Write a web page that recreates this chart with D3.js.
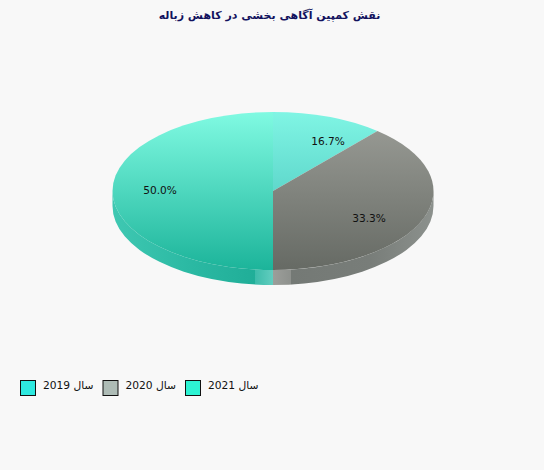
<!DOCTYPE html>
<html><head><meta charset="utf-8">
<script src="https://cdn.jsdelivr.net/npm/d3@7/dist/d3.min.js"></script>
<style>html,body{margin:0;padding:0;background:#f8f8f8}svg{display:block}</style></head>
<body><svg id="c" width="544" height="470"></svg>
<script>
const titleText = "نقش کمپین آگاهی بخشی در کاهش زباله";
const categories = ["سال 2019", "سال 2020", "سال 2021"];
const values = [16.7, 33.3, 50.0];
const labels = ["16.7%", "33.3%", "50.0%"];
const legendColors = ["#2ee9e0", "#aebcb6", "#2df3d3"];
const topStops = [["#80f5e4", "#5fd8cc"], ["#9c9e98", "#666a64"], ["#80fae2", "#1cb49a"]];

const svg = d3.select("#c");
const cx = 273, cy = 191, rx = 160.5, ry = 79, depth = 15;

const pie = d3.pie().sort(null).value(d => d)(values);
function edge(a) {
  const s = Math.sin(a), c = -Math.cos(a);
  const k = 1 / Math.sqrt((s / rx) ** 2 + (c / ry) ** 2);
  return [cx + k * s, cy + k * c];
}
const y = d3.scaleLinear().domain([0, 1]).range([cy - ry, cy + ry]);
const defs = svg.append("defs");
topStops.forEach((st, i) => {
  const g = defs.append("linearGradient").attr("id", "t" + i)
    .attr("gradientUnits", "userSpaceOnUse")
    .attr("x1", 0).attr("x2", 0).attr("y1", y(0)).attr("y2", i === 0 ? cy : y(1));
  st.forEach((c, j) => g.append("stop").attr("offset", j).attr("stop-color", c));
});
const mk = (id, stops, x1, x2) => {
  const g = defs.append("linearGradient").attr("id", id).attr("gradientUnits", "userSpaceOnUse")
    .attr("x1", x1).attr("x2", x2).attr("y1", 0).attr("y2", 0);
  stops.forEach(s => g.append("stop").attr("offset", s[0]).attr("stop-color", s[1]));
};
mk("sideTeal", [[0, "#3fc8b2"], [.45, "#2cbaa4"], [.885, "#20ae98"], [.89, "#3dbcaa"], [1, "#62cdbf"]], cx - rx, cx);
mk("sideGrey", [[0, "#9c9e9a"], [.11, "#8e918d"], [.115, "#747975"], [.6, "#787d79"], [1, "#8c918d"]], cx, cx + rx);

svg.append("path").attr("d", `M${cx - rx},${cy}A${rx},${ry} 0 0 0 ${cx},${cy + ry}L${cx},${cy + ry + depth}A${rx},${ry} 0 0 1 ${cx - rx},${cy + depth}Z`).attr("fill", "url(#sideTeal)");
svg.append("path").attr("d", `M${cx},${cy + ry}A${rx},${ry} 0 0 0 ${cx + rx},${cy}L${cx + rx},${cy + depth}A${rx},${ry} 0 0 1 ${cx},${cy + ry + depth}Z`).attr("fill", "url(#sideGrey)");

svg.append("g").selectAll("path").data(pie).join("path")
  .attr("d", d => {
    const p0 = edge(d.startAngle), p1 = edge(d.endAngle);
    const large = d.endAngle - d.startAngle > Math.PI ? 1 : 0;
    return `M${cx},${cy}L${p0[0]},${p0[1]}A${rx},${ry} 0 ${large} 1 ${p1[0]},${p1[1]}Z`;
  })
  .attr("fill", (d, i) => `url(#t${i})`);

const labelPos = [[328, 141], [369, 218], [160, 190]];
svg.append("g").selectAll("text").data(labels).join("text")
  .attr("x", (d, i) => labelPos[i][0]).attr("y", (d, i) => labelPos[i][1])
  .attr("text-anchor", "middle").attr("dominant-baseline", "central")
  .attr("font-family", "DejaVu Sans").attr("font-size", 10.6).attr("fill", "#111")
  .text(d => d);

svg.append("text").attr("x", 269.5).attr("y", 15).attr("text-anchor", "middle")
  .attr("dominant-baseline", "central").attr("direction", "rtl")
  .attr("font-family", "DejaVu Sans").attr("font-weight", "bold").attr("font-size", 11)
  .attr("fill", "#12125e").text(titleText);

const legendX = d3.scalePoint().domain(categories).range([20, 185]);
const lg = svg.append("g").selectAll("g").data(categories).join("g")
  .attr("transform", d => `translate(${legendX(d)},380)`);
lg.append("rect").attr("x", .5).attr("y", .5).attr("width", 15).attr("height", 15)
  .attr("fill", (d, i) => legendColors[i]).attr("stroke", "#111");
lg.append("text").attr("x", 73.5).attr("y", 5.5).attr("text-anchor", "end")
  .attr("dominant-baseline", "central").attr("direction", "ltr")
  .attr("font-family", "DejaVu Sans").attr("font-size", 10.7).attr("fill", "#111")
  .text(d => d);
</script></body></html>
